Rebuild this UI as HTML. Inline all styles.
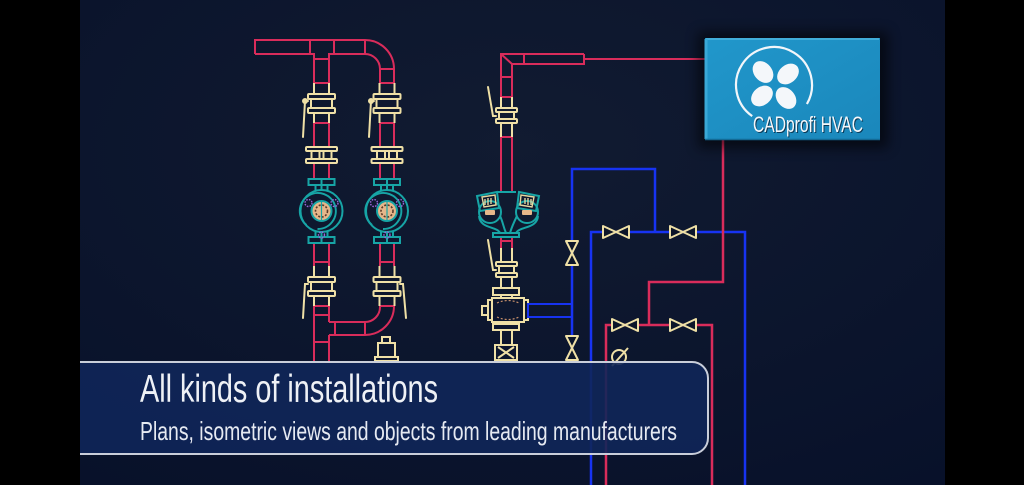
<!DOCTYPE html>
<html><head><meta charset="utf-8">
<style>
html,body{margin:0;padding:0;background:#000;}
body{width:1024px;height:485px;overflow:hidden;}
svg{display:block;}
</style></head><body>
<svg width="1024" height="485" viewBox="0 0 1024 485" xmlns="http://www.w3.org/2000/svg">
<defs>
<radialGradient id="bg" cx="0.5" cy="0.3" r="0.85">
<stop offset="0" stop-color="#111b31"/>
<stop offset="1" stop-color="#08112a"/>
</radialGradient>
<linearGradient id="boxg" x1="0" y1="0" x2="1" y2="1">
<stop offset="0" stop-color="#2197cb"/>
<stop offset="1" stop-color="#1a87bb"/>
</linearGradient>
<filter id="blur" x="-20%" y="-20%" width="140%" height="140%"><feGaussianBlur stdDeviation="6"/></filter>
<g id="pump">
  <g stroke="#17a5a6" stroke-width="2" fill="none">
    <rect x="-13" y="-32" width="26" height="6"/>
    <rect x="-13" y="26" width="26" height="6"/>
    <path d="M0,-32 V-21 M0,21 V32 M-6,-26 V-20 M6,-26 V-20 M-6,20 V26 M6,20 V26"/>
    <circle r="21"/>
    <path d="M-15,14 A18,18 0 1 1 -4,18"/>
  </g>
  <circle r="10" fill="#e6b68a" stroke="#17a5a6" stroke-width="2"/>
  <circle r="6" fill="none" stroke="#5a3a2a" stroke-width="1.6" stroke-dasharray="2 1.6"/>
  <path d="M0,-10 V10" stroke="#17a5a6" stroke-width="1.2"/>
  <g fill="none" stroke="#9a64d8" stroke-width="1.4" stroke-dasharray="1.6 1.2">
    <circle cx="-13" cy="-8" r="3.5"/>
    <circle cx="13" cy="-8" r="3.5"/>
    <circle cx="0" cy="24" r="3"/>
  </g>
</g>
<g id="valve" fill="none" stroke="#efe0a6" stroke-width="2">
  <path d="M-7.5,0 V11 M7.5,0 V11 M-7.5,30 V40 M7.5,30 V40"/>
  <rect x="-13.5" y="11" width="27" height="5" rx="1"/>
  <rect x="-10.5" y="16" width="21" height="9"/>
  <rect x="-13.5" y="25" width="27" height="5" rx="1"/>
</g>
<g id="union" fill="none" stroke="#efe0a6" stroke-width="2">
  <rect x="-15.5" y="0" width="31" height="4" rx="1"/>
  <rect x="-15.5" y="12" width="31" height="4" rx="1"/>
  <path d="M-10,4 V12 M10,4 V12 M-2,4 V12 M2,4 V12"/>
</g>
</defs>

<rect width="1024" height="485" fill="#000"/>
<rect x="80" y="0" width="865" height="485" fill="url(#bg)"/>

<!-- ===== LEFT PIPE SYSTEM ===== -->
<g fill="none" stroke="#d92c5b" stroke-width="2">
  <path d="M255,54 V40 H365 A29,29 0 0 1 394,69 V83 M380,83 V69 A15,15 0 0 0 365,54 H329 V83 M314,83 V54 H255"/>
  <path d="M310,40 V54 M334,40 V54 M365,40 V54 M314,59 H329 M314,83 H329 M380,69 H394 M380,83 H394"/>
  <path d="M314,123 V147 M329,123 V147 M380,123 V147 M394,123 V147 M314,123 H329 M380,123 H394"/>
  <path d="M314,163 V179 M329,163 V179 M380,163 V179 M394,163 V179"/>
  <path d="M314,243 V266 M329,243 V266 M380,243 V266 M394,243 V266 M314,262 H329 M380,262 H394"/>
  <path d="M314,306 V362 M329,306 V322 M329,335 V362 M314,306 H329 M314,315 H329 M314,342 H329"/>
  <path d="M329,322 H365 A15,15 0 0 0 380,307 V306 M329,335 H365 A29,29 0 0 0 394,306 M380,306 H394 M335,322 V335 M365,322 V335"/>
</g>
<use href="#valve" x="321.5" y="83"/>
<use href="#valve" x="387" y="83"/>
<use href="#valve" x="321.5" y="266"/>
<use href="#valve" x="387" y="266"/>
<use href="#union" x="321.5" y="147"/>
<use href="#union" x="387" y="147"/>
<g fill="none" stroke="#efe0a6" stroke-width="2" stroke-linecap="round">
  <path d="M308,101 H305 L303,137"/>
  <path d="M374,101 H371 L369,137"/>
  <path d="M308,284 H305 L303,318"/>
  <path d="M400,284 H403 L406,318"/>
  <circle cx="305" cy="101" r="2"/>
  <circle cx="371" cy="101" r="2"/>
  <rect x="382" y="337" width="8" height="6"/>
  <rect x="378" y="343" width="17" height="14"/>
  <rect x="375" y="357" width="23" height="4"/>
</g>
<use href="#pump" x="321.5" y="211"/>
<use href="#pump" x="387" y="211"/>

<!-- ===== MIDDLE COLUMN ===== -->
<g fill="none" stroke="#d92c5b" stroke-width="2">
  <path d="M584,54 H501 V97 M512,97 V64 H584 V54 M501,54 L512,64 M524,54 V64 M501,77 H512 M501,97 H512"/>
  <path d="M501,137 V192 M512,137 V192 M501,137 H512"/>
  <path d="M501,237 V248 M512,237 V248 M501,241 H512"/>
</g>
<g fill="none" stroke="#efe0a6" stroke-width="2">
  <path d="M501,97 V108 M512,97 V108 M501,123 V137 M512,123 V137"/>
  <rect x="496" y="108" width="21" height="4" rx="1"/>
  <rect x="499" y="112" width="15" height="7"/>
  <rect x="496" y="119" width="21" height="4" rx="1"/>
  <path d="M496,116 H493 L488,87" stroke-linecap="round"/>
  <path d="M501,248 V262 M512,248 V262 M501,277 V288 M512,277 V288"/>
  <rect x="496" y="262" width="21" height="4" rx="1"/>
  <rect x="499" y="266" width="15" height="7"/>
  <rect x="496" y="273" width="21" height="4" rx="1"/>
  <path d="M496,270 H493 L488,240" stroke-linecap="round"/>
  <rect x="493" y="288" width="26" height="7"/>
  <path d="M501,295 V298 M512,295 V298"/>
  <rect x="492" y="298" width="32" height="24"/>
  <rect x="488" y="300" width="4" height="20"/>
  <rect x="524" y="300" width="4" height="20"/>
  <rect x="482" y="306" width="6" height="9"/>
  <path d="M501,322 V324 M512,322 V324"/>
  <rect x="493" y="324" width="26" height="6"/>
  <path d="M501,330 V345 M512,330 V345"/>
  <rect x="495" y="345" width="22" height="15"/>
  <path d="M498,347 L514,358 M514,347 L498,358"/>
</g>
<path d="M497,303 Q508,298 519,303 M497,317 Q508,322 519,317" fill="none" stroke="#c8906a" stroke-width="1.2" stroke-dasharray="2 2"/>
<!-- twin pump -->
<g fill="none" stroke="#17a5a6" stroke-width="2">
  <path d="M498,192 H516"/>
  <path d="M477,196 L497,192 L499,208 L480,211 Z"/>
  <path d="M539,196 L519,192 L517,208 L536,211 Z"/>
  <circle cx="490" cy="212" r="11"/>
  <circle cx="527" cy="212" r="11"/>
  <path d="M479,216 C480,229 497,226 500,233"/>
  <path d="M538,216 C537,229 520,226 516,233"/>
  <path d="M500,216 C503,222 503,226 506,233 M517,216 C514,222 512,226 510,233"/>
  <rect x="493" y="233" width="26" height="4"/>
</g>
<g fill="none" stroke="#e6d8a0" stroke-width="1.4">
  <path d="M482,197 L495,195 L496,205 L484,207 Z M485,199 V205 M488,198 V205 M491,198 V204"/>
  <path d="M534,197 L521,195 L520,205 L532,207 Z M531,199 V205 M528,198 V205 M525,198 V204"/>
</g>
<rect x="485" y="210" width="10" height="5" rx="1" fill="#e6b68a"/>
<rect x="522" y="210" width="10" height="5" rx="1" fill="#e6b68a"/>

<!-- ===== BLUE / RED LINES ===== -->
<g fill="none" stroke-width="2.5">
  <path d="M572,362 V169 H655 V232" stroke="#1733f2"/>
  <path d="M591,485 V232 H745 V485" stroke="#1733f2"/>
  <rect x="528" y="304" width="44" height="13" stroke="#1733f2" stroke-width="2"/>
  <path d="M584,59 H706" stroke="#d92c5b" stroke-width="2"/>
  <path d="M723,140 V282 H649 V325" stroke="#d92c5b"/>
  <path d="M606,485 V325 H712 V485" stroke="#d92c5b"/>
</g>
<g fill="#0c1529" stroke="#efe0a6" stroke-width="2" stroke-linejoin="round">
  <path d="M603,226 L629,238 V226 L603,238 Z"/>
  <path d="M670,226 L696,238 V226 L670,238 Z"/>
  <path d="M612,319 L638,331 V319 L612,331 Z"/>
  <path d="M670,319 L696,331 V319 L670,331 Z"/>
  <path d="M566,241 L578,265 H566 L578,241 Z"/>
  <path d="M566,336 L578,360 H566 L578,336 Z"/>
  <circle cx="619" cy="357" r="7" fill="none"/>
  <path d="M612,366 L628,348" fill="none"/>
</g>

<!-- ===== CADprofi BOX ===== -->
<rect x="698" y="32" width="190" height="116" fill="#000" opacity="0.55" filter="url(#blur)"/>
<rect x="705" y="38" width="175" height="102" fill="url(#boxg)"/>
<path d="M706,39 H879" stroke="#4cb6e0" stroke-width="1.5"/>
<path d="M706,39 V139" stroke="#3aa8d6" stroke-width="3"/>
<path d="M705,139.5 H880" stroke="#136a95" stroke-width="1.5"/>
<path d="M752.2,116.1 A38,38 0 1 1 806.9,104" fill="none" stroke="#f2f6fa" stroke-width="2.2"/>
<g fill="#f4f7fa" transform="translate(775,85)">
  <ellipse cx="-12" cy="-13" rx="9" ry="12" transform="rotate(-40 -12 -13)"/>
  <ellipse cx="13" cy="-11" rx="9" ry="12" transform="rotate(50 13 -11)"/>
  <ellipse cx="11" cy="13" rx="9" ry="12" transform="rotate(-40 11 13)"/>
  <ellipse cx="-13" cy="11" rx="9" ry="12" transform="rotate(50 -13 11)"/>
  <circle r="2.2" fill="#1d8fc4"/>
</g>
<text x="754" y="133" font-family="'Liberation Sans Narrow','Liberation Sans',sans-serif" font-size="22" textLength="110" lengthAdjust="spacingAndGlyphs" fill="#0b3a57">CADprofi HVAC</text>
<text x="753" y="132" font-family="'Liberation Sans Narrow','Liberation Sans',sans-serif" font-size="22" textLength="110" lengthAdjust="spacingAndGlyphs" fill="#f4f7fa">CADprofi HVAC</text>

<!-- ===== CAPTION ===== -->
<path d="M70,362 H692 A16,16 0 0 1 708,378 V438 A16,16 0 0 1 692,454 H70 Z" fill="#102659" fill-opacity="0.9" stroke="#c9ceda" stroke-width="2"/>
<text x="140" y="402" font-family="'Liberation Sans Narrow','Liberation Sans',sans-serif" font-size="39" textLength="298" lengthAdjust="spacingAndGlyphs" fill="#eef1f6">All kinds of installations</text>
<text x="140" y="440" font-family="'Liberation Sans Narrow','Liberation Sans',sans-serif" font-size="26" textLength="537" lengthAdjust="spacingAndGlyphs" fill="#e6eaf2">Plans, isometric views and objects from leading manufacturers</text>

<rect x="0" y="0" width="80" height="485" fill="#000"/>
<rect x="945" y="0" width="79" height="485" fill="#000"/>
</svg>
</body></html>
